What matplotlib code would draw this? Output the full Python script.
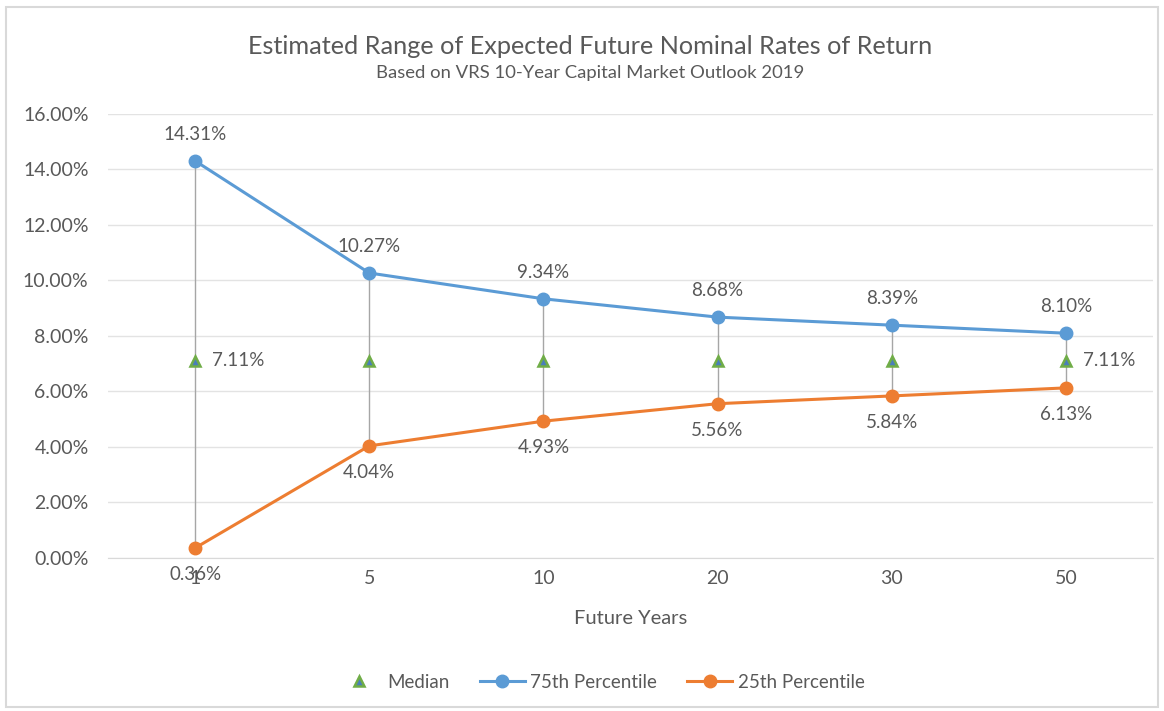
import matplotlib.pyplot as plt
from matplotlib.lines import Line2D
from matplotlib.patches import Rectangle

plt.rcParams['font.family'] = ['Lato', 'DejaVu Sans']

# данные
years = ['1', '5', '10', '20', '30', '50']
p75 = [14.31, 10.27, 9.34, 8.68, 8.39, 8.10]
p25 = [0.36, 4.04, 4.93, 5.56, 5.84, 6.13]
median = [7.11, 7.11, 7.11, 7.11, 7.11, 7.11]

blue = '#5b9bd5'
orange = '#ed7d31'
green = '#70ad47'
txt = '#595959'

fig = plt.figure(figsize=(11.64, 7.11), dpi=100)
ax = fig.add_axes([0.0928, 0.2152, 0.8977, 0.6245])

x = list(range(len(years)))

# high-low lines
ax.vlines(x, p25, p75, color='#a6a6a6', linewidth=1, zorder=2)

ax.plot(x, p75, color=blue, linewidth=2.2, marker='o', markersize=9, zorder=3)
ax.plot(x, p25, color=orange, linewidth=2.2, marker='o', markersize=9, zorder=3)
ax.plot(x, median, linestyle='none', marker='^', markersize=7.5,
        markerfacecolor='#4a7ebb', markeredgecolor=green, markeredgewidth=1.8, zorder=4)

# подписи
fs = 13.5
for i in range(len(x)):
    ax.annotate('%.2f%%' % p75[i], (x[i], p75[i]), xytext=(0, 13), textcoords='offset points',
                ha='center', va='bottom', fontsize=fs, color=txt)
    ax.annotate('%.2f%%' % p25[i], (x[i], p25[i]), xytext=(0, -13), textcoords='offset points',
                ha='center', va='top', fontsize=fs, color=txt)
for i in [0, len(x) - 1]:
    ax.annotate('%.2f%%' % median[i], (x[i], median[i]), xytext=(12, 0), textcoords='offset points',
                ha='left', va='center', fontsize=fs, color=txt)

ax.set_xlim(-0.5, len(x) - 0.5)
ax.set_ylim(0, 16)
ax.set_yticks(range(0, 17, 2))
ax.set_yticklabels(['%.2f%%' % v for v in range(0, 17, 2)])
ax.set_xticks(x)
ax.set_xticklabels(years)
ax.tick_params(length=0, labelsize=14, colors=txt)
ax.tick_params(axis='x', pad=9)
ax.tick_params(axis='y', pad=14)
ax.grid(axis='y', color='#e3e3e3', linewidth=1)
ax.set_axisbelow(True)
for s in ['top', 'right', 'left']:
    ax.spines[s].set_visible(False)
ax.spines['bottom'].set_color('#d9d9d9')
ax.set_xlabel('Future Years', fontsize=14.5, color=txt, labelpad=16)

fig.text(0.507, 0.935, 'Estimated Range of Expected Future Nominal Rates of Return',
         ha='center', va='center', fontsize=18.2, color=txt)
fig.text(0.507, 0.898, 'Based on VRS 10-Year Capital Market Outlook 2019',
         ha='center', va='center', fontsize=13.3, color=txt)

handles = [
    Line2D([], [], linestyle='none', marker='^', markersize=7.5, markerfacecolor='#4a7ebb',
           markeredgecolor=green, markeredgewidth=1.8),
    Line2D([], [], color=blue, linewidth=2.2, marker='o', markersize=9),
    Line2D([], [], color=orange, linewidth=2.2, marker='o', markersize=9),
]
fig.legend(handles, ['Median', '75th Percentile', '25th Percentile'], loc='center',
           bbox_to_anchor=(0.516, 0.04), ncol=3, frameon=False, fontsize=13.5,
           labelcolor=txt, handlelength=2.4, handletextpad=0.3, columnspacing=1.6)

fig.patches.append(Rectangle((0.005, 0.005), 0.99, 0.985, transform=fig.transFigure,
                             fill=False, edgecolor='#d9d9d9', linewidth=1.5))

plt.savefig('out.png', dpi=100)
